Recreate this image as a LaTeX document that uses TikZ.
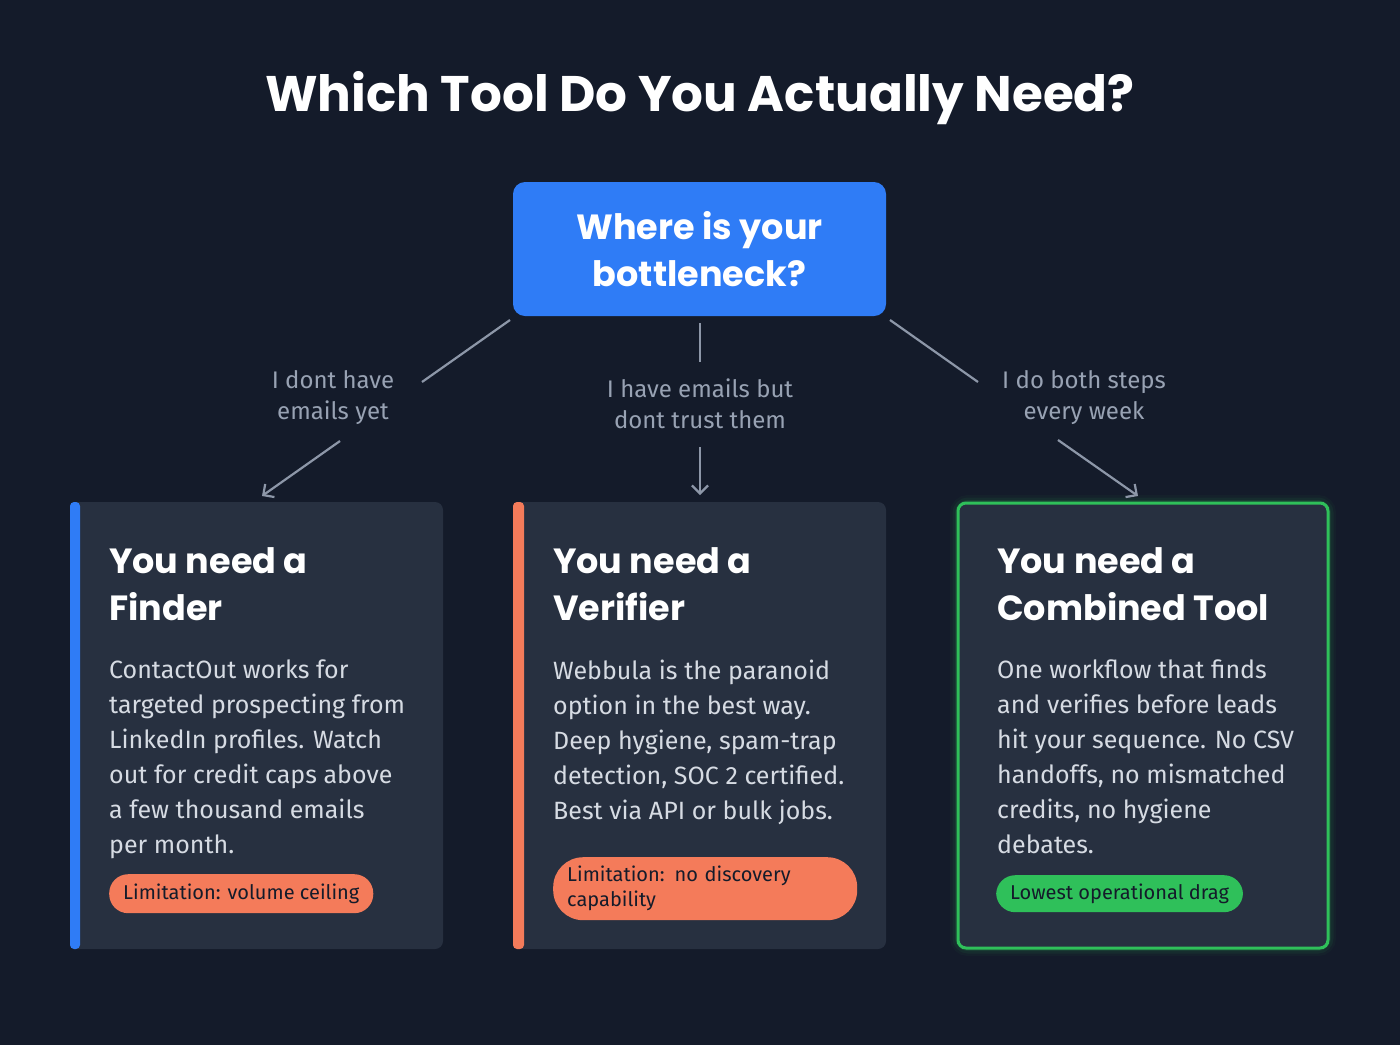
\documentclass[tikz,border=0pt]{standalone}
\usepackage{fontspec}
\setmainfont{Fira Sans}
\newfontfamily\headf{Poppins}[UprightFont=* SemiBold,BoldFont=* Bold]
\usetikzlibrary{arrows.meta}
\definecolor{bg}{HTML}{141B2A}
\definecolor{card}{HTML}{273040}
\definecolor{blu}{HTML}{2F7CF6}
\definecolor{org}{HTML}{F47B5A}
\definecolor{grn}{HTML}{2FC05A}
\definecolor{lbl}{HTML}{98A2B3}
\definecolor{body}{HTML}{D6DBE3}
\definecolor{conn}{HTML}{8D97A8}
\begin{document}
\begin{tikzpicture}[x=1pt,y=-1pt,
 lab/.style={text=lbl,font=\fontsize{24}{31}\selectfont,align=center},
 con/.style={draw=conn,line width=2.2pt},
 arr/.style={con,-{Straight Barb[length=8pt,width=16pt]}},
 head/.style={anchor=north west,text=white,font=\headf\bfseries\fontsize{35}{47}\selectfont,align=left,inner sep=0pt},
 txt/.style={anchor=north west,text=body,font=\fontsize{25}{35}\selectfont,align=left,inner sep=0pt},
 pill/.style={rounded corners=19pt,fill=#1,text=bg,font=\fontsize{20}{25}\selectfont,align=left,inner xsep=14pt,inner ysep=0pt,anchor=north west}]
\fill[bg] (0,0) rectangle (1400,1045);
\useasboundingbox (0,0) rectangle (1400,1045);
\node[text=white,font=\headf\bfseries\fontsize{50}{60}\selectfont] (title) at (700,98) {Which Tool Do You Actually Need?};
\node[fill=blu,rounded corners=12pt,minimum width=373pt,minimum height=134pt,text=white,font=\headf\bfseries\fontsize{35}{47}\selectfont,align=center] (q) at (699.5,249) {Where is your\\bottleneck?};
% cards
\fill[card,rounded corners=8pt] (70,502) rectangle (443,949);
\fill[blu,rounded corners=4pt] (70,502) rectangle (80,949);
\fill[card,rounded corners=8pt] (513,502) rectangle (886,949);
\fill[org,rounded corners=4pt] (513,502) rectangle (524,949);
\foreach \w/\o in {16/0.04,11/0.07,6/0.12}{\draw[grn,line width=\w pt,opacity=\o,rounded corners=10pt] (958,503) rectangle (1328,948);}
\fill[card,rounded corners=8pt] (958,503) rectangle (1328,948);
\draw[grn,line width=3pt,rounded corners=8pt] (958,503) rectangle (1328,948);
% labels & connectors
\node[lab] (l1) at (333,398) {I dont have\\emails yet};
\node[lab] (l2) at (700,404) {I have emails but\\dont trust them};
\node[lab] (l3) at (1084,398) {I do both steps\\every week};
\coordinate (a1) at (510,320); \coordinate (b1) at (422,382);
\coordinate (a3) at (890,320); \coordinate (b3) at (978,382);
\draw[con] (a1) -- (b1);
\draw[con] (700,323) -- (700,362);
\draw[con] (a3) -- (b3);
\coordinate (s1) at (340,441); \coordinate (e1) at (262,496);
\coordinate (s3) at (1058,440); \coordinate (e3) at (1138,496);
\draw[arr] (s1) -- (e1);
\draw[arr] (700,447) -- (700,495);
\draw[arr] (s3) -- (e3);
% card content
\node[head] (h1) at (109,547) {You need a\\Finder};
\node[head] (h2) at (553,547) {You need a\\Verifier};
\node[head] (h3) at (997,547) {You need a\\Combined Tool};
\node[txt] (t1) at (109,660) {ContactOut works for\\targeted prospecting from\\LinkedIn profiles. Watch\\out for credit caps above\\a few thousand emails\\per month.};
\node[txt] (t2) at (553,660) {Webbula is the paranoid\\option in the best way.\\Deep hygiene, spam-trap\\detection, SOC 2 certified.\\Best via API or bulk jobs.};
\node[txt] (t3) at (997,660) {One workflow that finds\\and verifies before leads\\hit your sequence. No CSV\\handoffs, no mismatched\\credits, no hygiene\\debates.};
\node[pill=org,minimum height=39pt] (p1) at (109,874) {Limitation: volume ceiling};
\node[pill=org,minimum height=63pt,text width=276pt,rounded corners=30pt] (p2) at (553,857) {Limitation: no discovery\\capability};
\node[pill=grn,minimum height=37pt] (p3) at (996,875) {Lowest operational drag};
\end{tikzpicture}
\end{document}
